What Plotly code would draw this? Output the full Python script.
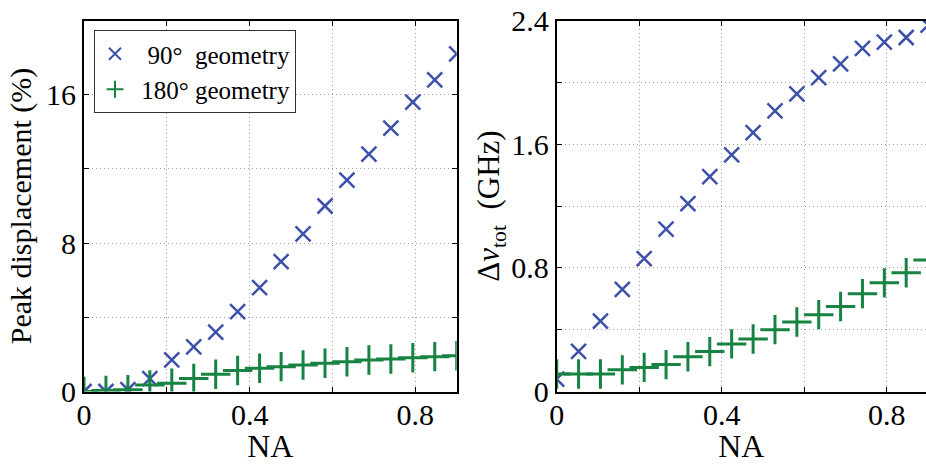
import plotly.graph_objects as go

# ---- data ----
na = [0, 0.053, 0.106, 0.159, 0.212, 0.265, 0.318, 0.371, 0.424,
      0.476, 0.529, 0.582, 0.635, 0.688, 0.741, 0.794, 0.847, 0.9]

peak_90 = [0, 0, 0.1, 0.7, 1.7, 2.4, 3.2, 4.3, 5.6, 7.0, 8.5, 10.0,
           11.4, 12.8, 14.2, 15.6, 16.8, 18.2]
peak_180 = [0, 0.05, 0.1, 0.35, 0.45, 0.7, 0.93, 1.13, 1.25, 1.34, 1.43,
            1.52, 1.6, 1.7, 1.75, 1.82, 1.88, 1.93]

dnu_90 = [0.08, 0.26, 0.455, 0.66, 0.86, 1.05, 1.215, 1.39, 1.53, 1.675,
          1.815, 1.925, 2.03, 2.12, 2.22, 2.26, 2.29, 2.37]
dnu_180 = [0.113, 0.113, 0.113, 0.14, 0.156, 0.174, 0.225, 0.258, 0.308,
           0.34, 0.40, 0.45, 0.497, 0.55, 0.633, 0.703, 0.768, 0.85]

x_tickvals = [0, 0.2, 0.4, 0.6, 0.8]
x_ticktext = ["0", "", "0.4", "", "0.8"]
yl_tickvals = [0, 4, 8, 12, 16]
yl_ticktext = ["0", "", "8", "", "16"]
yr_tickvals = [0, 0.4, 0.8, 1.2, 1.6, 2.0, 2.4]
yr_ticktext = ["0", "", "0.8", "", "1.6", "", "2.4"]

names = ["\u00a0\u00a090°\u00a0\u00a0geometry", "\u00a0180°\u00a0geometry"]

# ---- style ----
BLUE = "#3D51AA"
GREEN = "#168342"
FONT = "Liberation Serif"
W, H = 926, 464

fig = go.Figure()

fig.add_trace(go.Scatter(x=na, y=peak_90, mode="markers", name=names[0],
                         marker=dict(symbol="x-thin", size=15,
                                     line=dict(color=BLUE, width=2.5)),
                         xaxis="x", yaxis="y"))
fig.add_trace(go.Scatter(x=na, y=peak_180, mode="markers", name=names[1],
                         marker=dict(symbol="cross-thin", size=21,
                                     line=dict(color=GREEN, width=3)),
                         xaxis="x", yaxis="y"))
fig.add_trace(go.Scatter(x=na, y=dnu_90, mode="markers", showlegend=False,
                         marker=dict(symbol="x-thin", size=15,
                                     line=dict(color=BLUE, width=2.5)),
                         xaxis="x2", yaxis="y2"))
fig.add_trace(go.Scatter(x=na, y=dnu_180, mode="markers", showlegend=False,
                         marker=dict(symbol="cross-thin", size=21,
                                     line=dict(color=GREEN, width=3)),
                         xaxis="x2", yaxis="y2"))

common = dict(showline=True, linecolor="black", linewidth=2,
              ticks="inside", ticklen=5, tickwidth=1, tickcolor="black",
              showgrid=True, gridcolor="#a0a0a0", griddash="1px,3px", gridwidth=1,
              zeroline=False, tickfont=dict(family=FONT, size=30, color="black"),
              tickmode="array", automargin=False)

top = 1 - 20.5 / H
bot = 1 - 391.5 / H

fig.update_layout(
    template="none",
    width=W, height=H,
    margin=dict(l=0, r=0, t=0, b=0, pad=0),
    paper_bgcolor="white", plot_bgcolor="white",
    font=dict(family=FONT, color="black"),
    xaxis=dict(common, domain=[84 / W, 456.7 / W], range=[0, 0.9],
               tickvals=x_tickvals, ticktext=x_ticktext, mirror="ticks",
               ticklabelstandoff=-5,
               title=dict(text="NA", font=dict(size=32, family=FONT), standoff=0),
               anchor="y"),
    yaxis=dict(common, domain=[bot, top], range=[0, 20],
               tickvals=yl_tickvals, ticktext=yl_ticktext, mirror="ticks",
               title=dict(text="Peak displacement (%)",
                          font=dict(size=30, family=FONT), standoff=6),
               anchor="x"),
    xaxis2=dict(common, domain=[556.7 / W, 1.0], range=[0, 0.895],
                tickvals=x_tickvals, ticktext=x_ticktext, mirror="ticks",
                ticklabelstandoff=-5,
                title=dict(text="NA", font=dict(size=32, family=FONT), standoff=0),
                anchor="y2"),
    yaxis2=dict(common, domain=[bot, top], range=[0, 2.4],
                tickvals=yr_tickvals, ticktext=yr_ticktext, mirror=False,
                title=dict(text="Δ<i>ν</i><sub>tot</sub>\u00a0\u00a0(GHz)",
                           font=dict(size=31, family=FONT), standoff=2),
                anchor="x2"),
    legend=dict(x=94 / W, y=1 - 30 / H, xanchor="left", yanchor="top",
                bgcolor="white", bordercolor="#333333", borderwidth=1,
                font=dict(family=FONT, size=25, color="black"),
                itemsizing="constant", tracegroupgap=0),
)

fig.write_html("out.html")
